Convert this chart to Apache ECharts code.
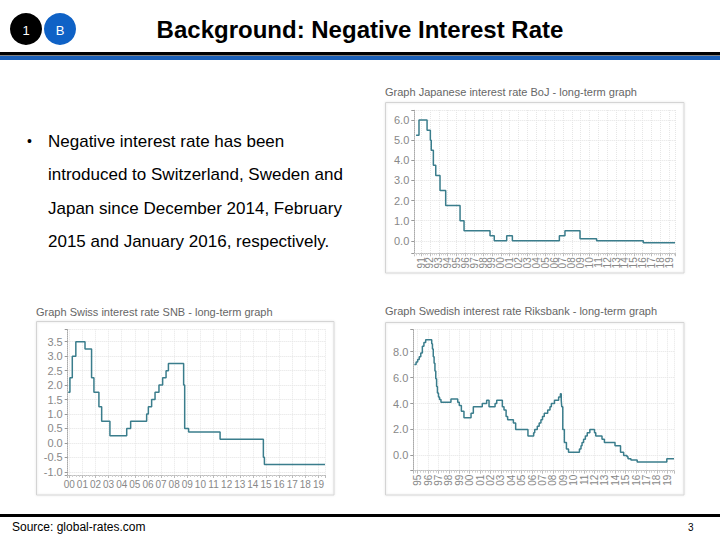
<!DOCTYPE html>
<html><head><meta charset="utf-8">
<script src="https://cdn.jsdelivr.net/npm/echarts@6/dist/echarts.min.js"></script>
<style>html,body{margin:0;padding:0;background:#fff}#c{width:720px;height:540px}</style>
</head><body><div id="c"></div>
<script>
// ---- Japan (BoJ policy rate), decimal year of change and new rate ----
const jpDates = [1990.44, 1990.77, 1991.68, 1992.05, 1992.15, 1992.39, 1992.66, 1993.14, 1993.78, 1995.40, 1995.85, 1998.78, 1999.26, 2000.66, 2001.30, 2006.60, 2007.23, 2008.93, 2010.80, 2016.06, 2019.64];
const jpRates = [5.25, 6.0, 5.5, 5.0, 4.5, 3.75, 3.25, 2.5, 1.75, 1.0, 0.5, 0.25, 0.0, 0.25, 0.0, 0.25, 0.5, 0.1, 0.0, -0.1, -0.1];

// ---- Switzerland (SNB) ----
const chDates = [1999.92, 2000.05, 2000.23, 2000.50, 2001.20, 2001.70, 2001.88, 2002.26, 2002.47, 2003.10, 2004.38, 2004.68, 2005.90, 2006.03, 2006.28, 2006.54, 2006.84, 2007.12, 2007.38, 2007.56, 2008.72, 2008.80, 2009.10, 2011.50, 2014.80, 2014.88, 2019.50];
const chRates = [1.75, 2.25, 3.0, 3.5, 3.25, 2.25, 1.75, 1.25, 0.75, 0.25, 0.5, 0.75, 1.0, 1.25, 1.5, 1.75, 2.0, 2.25, 2.5, 2.75, 2.0, 0.5, 0.375, 0.125, -0.5, -0.75, -0.75];

// ---- Sweden (Riksbank repo rate) ----
const seDates = [1994.68, 1994.85, 1995.00, 1995.15, 1995.30, 1995.45, 1995.60, 1995.77, 1996.35, 1996.42, 1996.50, 1996.58, 1996.66, 1996.74, 1996.82, 1996.90, 1997.00, 1997.10, 1997.24, 1998.20, 1998.85, 1999.00, 1999.20, 1999.45, 2000.13, 2000.35, 2001.21, 2001.63, 2001.86, 2002.44, 2002.60, 2003.14, 2003.30, 2003.50, 2003.65, 2004.20, 2004.42, 2005.60, 2006.15, 2006.25, 2006.50, 2006.68, 2006.85, 2007.00, 2007.17, 2007.50, 2007.72, 2007.85, 2008.15, 2008.55, 2008.72, 2008.80, 2008.85, 2008.95, 2009.10, 2009.30, 2009.50, 2010.55, 2010.70, 2010.80, 2010.95, 2011.12, 2011.30, 2011.55, 2012.00, 2012.12, 2012.72, 2012.95, 2013.97, 2014.50, 2014.80, 2015.12, 2015.22, 2015.50, 2016.10, 2018.95, 2019.64];
const seRates = [7.0, 7.2, 7.4, 7.6, 7.9, 8.41, 8.71, 8.91, 8.61, 8.21, 7.61, 7.11, 6.51, 5.91, 5.31, 4.81, 4.5, 4.3, 4.1, 4.35, 4.1, 3.85, 3.4, 2.9, 3.25, 3.75, 4.0, 4.25, 3.75, 4.0, 4.25, 3.75, 3.5, 3.0, 2.75, 2.5, 2.0, 1.5, 1.75, 2.0, 2.25, 2.5, 2.75, 3.0, 3.25, 3.5, 3.75, 4.0, 4.25, 4.5, 4.75, 4.25, 3.75, 2.0, 1.0, 0.5, 0.25, 0.5, 0.75, 1.0, 1.25, 1.5, 1.75, 2.0, 1.75, 1.5, 1.25, 1.0, 0.75, 0.25, 0.0, -0.1, -0.25, -0.35, -0.5, -0.25, -0.25];

const chartTitles = [
  'Graph Japanese interest rate BoJ - long-term graph',
  'Graph Swiss interest rate SNB - long-term graph',
  'Graph Swedish interest rate Riksbank - long-term graph'
];
const bulletLines = [
  'Negative interest rate has been',
  'introduced to Switzerland, Sweden and',
  'Japan since December 2014, February',
  '2015 and January 2016, respectively.'
];

const FONT = '"Liberation Sans", Arial, sans-serif';
const LINE = '#3a7d8c';

function yearLabel(v) {
  return Math.abs(v - Math.round(v)) < 1e-6 ? String(Math.round(v)).slice(2) : '';
}
function valLabel(step) {
  return function (v) {
    const k = v / step;
    return Math.abs(k - Math.round(k)) < 1e-6 ? v.toFixed(1) : '';
  };
}
function mkX(gi, min, max, rotate) {
  return {
    type: 'value', gridIndex: gi, min: min, max: max, minInterval: 1, maxInterval: 1,
    axisLine: { show: true, onZero: false, lineStyle: { color: '#bbb', type: 'dotted' } },
    axisTick: { show: true, length: 3, lineStyle: { color: '#bbb' } },
    minorTick: { show: true, splitNumber: 4, length: 2, lineStyle: { color: '#d0d0d0' } },
    splitLine: { show: true, lineStyle: { color: '#e6e6e6', type: 'dotted' } },
    axisLabel: { formatter: yearLabel, rotate: rotate, color: '#888', fontSize: 10, fontFamily: FONT, margin: 4 }
  };
}
function mkY(gi, min, max, step) {
  return {
    type: 'value', gridIndex: gi, min: min, max: max, minInterval: step, maxInterval: step,
    axisLine: { show: true, lineStyle: { color: '#aaa', type: 'dotted' } },
    axisTick: { show: true, length: 3, lineStyle: { color: '#999' } },
    splitLine: { show: true, lineStyle: { color: '#e3e3e3', type: 'dotted' } },
    axisLabel: { formatter: valLabel(step), color: '#888', fontSize: 11, fontFamily: FONT, margin: 5 }
  };
}
function mkSeries(i, dates, rates) {
  return {
    type: 'line', xAxisIndex: i, yAxisIndex: i, step: 'end', symbol: 'none', showSymbol: false,
    silent: true, data: dates.map(function (d, k) { return [d, rates[k]]; }),
    lineStyle: { color: LINE, width: 1.5 }
  };
}
function txt(x, y, text, font, fill, align) {
  return { type: 'text', x: x, y: y, silent: true,
    style: { text: text, font: font, fill: fill, align: align || 'left', verticalAlign: 'middle' } };
}
function frame(x, y, w, h) {
  return { type: 'rect', silent: true, shape: { x: x, y: y, width: w, height: h },
    style: { fill: 'none', stroke: '#d4d4d4', lineWidth: 1, shadowBlur: 2, shadowColor: 'rgba(0,0,0,0.12)' } };
}

const chart = echarts.init(document.getElementById('c'), null, { renderer: 'svg', width: 720, height: 540 });
const graphics = [
  { type: 'circle', silent: true, shape: { cx: 26, cy: 29, r: 16 }, style: { fill: '#000' } },
  { type: 'circle', silent: true, shape: { cx: 60, cy: 29, r: 16 }, style: { fill: '#0f62c6' } },
  txt(26, 30, '1', '13px ' + FONT, '#fff', 'center'),
  txt(60, 30, 'B', '13px ' + FONT, '#fff', 'center'),
  txt(360, 29, 'Background: Negative Interest Rate', 'bold 24px ' + FONT, '#000', 'center'),
  { type: 'rect', silent: true, shape: { x: 0, y: 52, width: 720, height: 3.5 }, style: { fill: '#000' } },
  { type: 'rect', silent: true, shape: { x: 0, y: 56, width: 720, height: 4 }, style: { fill: '#1a5fb8' } },
  txt(27, 141, '\u2022', '14px ' + FONT, '#000', 'left'),
  { type: 'rect', silent: true, shape: { x: 0, y: 514, width: 720, height: 3 }, style: { fill: '#000' } },
  txt(12, 527, 'Source: global-rates.com', '12px ' + FONT, '#000', 'left'),
  txt(688, 527, '3', '10px ' + FONT, '#000', 'left'),
  frame(385.5, 102.5, 298.5, 170.5),
  frame(36.5, 321.5, 297.5, 173.5),
  frame(385.5, 322.5, 298.5, 172.5),
  txt(385, 92, chartTitles[0], '11px ' + FONT, '#666', 'left'),
  txt(36, 312, chartTitles[1], '11px ' + FONT, '#666', 'left'),
  txt(385, 311, chartTitles[2], '11px ' + FONT, '#666', 'left')
];
const lineYs = [141, 174.5, 208, 241.5];
bulletLines.forEach(function (s, i) { graphics.push(txt(48, lineYs[i], s, '17px ' + FONT, '#000', 'left')); });

chart.setOption({
  animation: false,
  backgroundColor: '#fff',
  grid: [
    { left: 414.3, top: 110, width: 260.7, height: 143.3 },
    { left: 67.7, top: 329.3, width: 257.3, height: 145.7 },
    { left: 413.3, top: 329.3, width: 260.7, height: 141.4 }
  ],
  xAxis: [mkX(0, 1990.24, 2019.64, 90), mkX(1, 1999.88, 2019.5, 0), mkX(2, 1994.58, 2019.64, 90)],
  yAxis: [mkY(0, -0.62, 6.5, 1), mkY(1, -1.11, 3.93, 0.5), mkY(2, -1.18, 9.72, 2)],
  series: [mkSeries(0, jpDates, jpRates), mkSeries(1, chDates, chRates), mkSeries(2, seDates, seRates)],
  graphic: graphics
});
</script>
</body></html>
